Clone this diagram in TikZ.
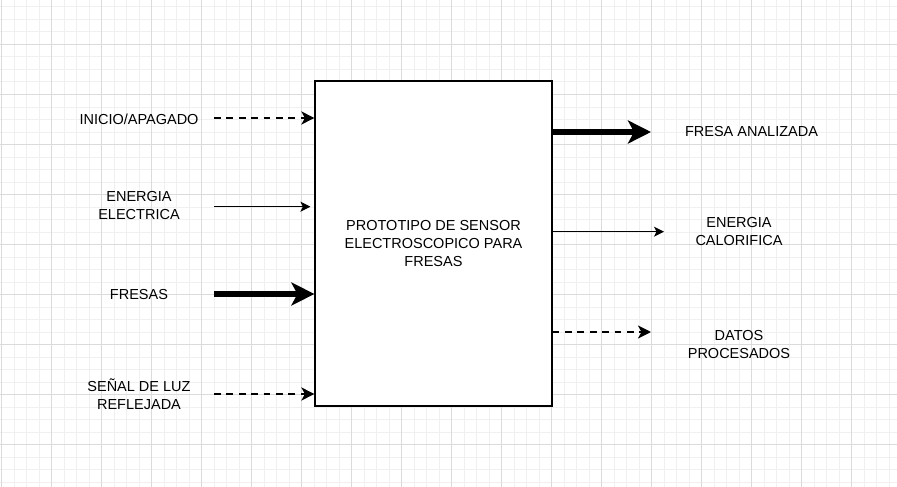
\documentclass[tikz,border=0pt]{standalone}
\usepackage{fontspec}
\setmainfont{Liberation Sans}
\usetikzlibrary{arrows.meta}

\tikzset{every picture/.style={line width=0.75pt}}
\tikzset{
  gridminor/.style={draw=black!6, line width=0.6pt},
  gridmajor/.style={draw=black!14, line width=0.6pt},
  lbl/.style={inner sep=0.75pt, align=center, font=\fontsize{14.5}{18}\selectfont},
  thinarr/.style={line width=1pt, -{Stealth[length=10pt, width=10pt, inset=2.5pt]}},
  dasharr/.style={line width=2.6pt, dash pattern={on 6.8pt off 5.6pt}, -{Stealth[length=13pt, width=13pt, inset=3.5pt]}},
  thickarr/.style={line width=6pt, -{Stealth[length=23pt, width=23pt, inset=6pt]}}
}

\begin{document}
\begin{tikzpicture}[x=1pt,y=1pt,yscale=-1,xscale=1]
     \useasboundingbox (0,0) rectangle (897,487);
     \fill[white] (0,0) rectangle (897,487);
     % Grid
     \foreach \k in {0,...,71} \draw[gridminor] (1.7+12.5*\k,0) -- (1.7+12.5*\k,487);
     \foreach \k in {0,...,38} \draw[gridminor] (0,6.8+12.5*\k) -- (897,6.8+12.5*\k);
     \foreach \k in {0,...,17} \draw[gridmajor] (1.7+50*\k,0) -- (1.7+50*\k,487);
     \foreach \k in {0,...,8} \draw[gridmajor] (0,44.3+50*\k) -- (897,44.3+50*\k);
     % Main block
     \node [draw, fill=white, line width=1.2pt, minimum width=237, minimum height=325, inner sep=0pt] (proto) at (433.5,243.5) {};
     \node [lbl] (protolbl) at (433.5,244) {PROTOTIPO DE SENSOR\\ELECTROSCOPICO PARA\\FRESAS};
     % Input labels
     \node [lbl] (inicio) at (139,119) {INICIO/APAGADO};
     \node [lbl] (elec) at (139,206) {ENERGIA\\ELECTRICA};
     \node [lbl] (fresas) at (139,295) {FRESAS};
     \node [lbl] (senal) at (139,394) {SEÑAL DE LUZ\\REFLEJADA};
     % Output labels
     \node [lbl] (analizada) at (751.5,132) {FRESA ANALIZADA};
     \node [lbl] (calor) at (739,232) {ENERGIA\\CALORIFICA};
     \node [lbl] (datos) at (739,344.5) {DATOS\\PROCESADOS};
     % Free ends of the connectors
     \coordinate (inicio-s) at (214,118);
     \coordinate (elec-s) at (214,206.7);
     \coordinate (fresas-s) at (214,294);
     \coordinate (senal-s) at (214,394);
     \coordinate (analizada-e) at (651,132);
     \coordinate (calor-e) at (664,231.7);
     \coordinate (datos-e) at (651,332);
     % Inputs
     \draw [dasharr] (inicio-s) -- (inicio-s -| proto.west);
     \draw [thinarr] (elec-s) -- ([xshift=-4pt]elec-s -| proto.west);
     \draw [thickarr] (fresas-s) -- (fresas-s -| proto.west);
     \draw [dasharr] (senal-s) -- (senal-s -| proto.west);
     % Outputs
     \draw [thickarr] (analizada-e -| proto.east) -- (analizada-e);
     \draw [thinarr] (calor-e -| proto.east) -- (calor-e);
     \draw [dasharr] (datos-e -| proto.east) -- (datos-e);
\end{tikzpicture}
\end{document}
